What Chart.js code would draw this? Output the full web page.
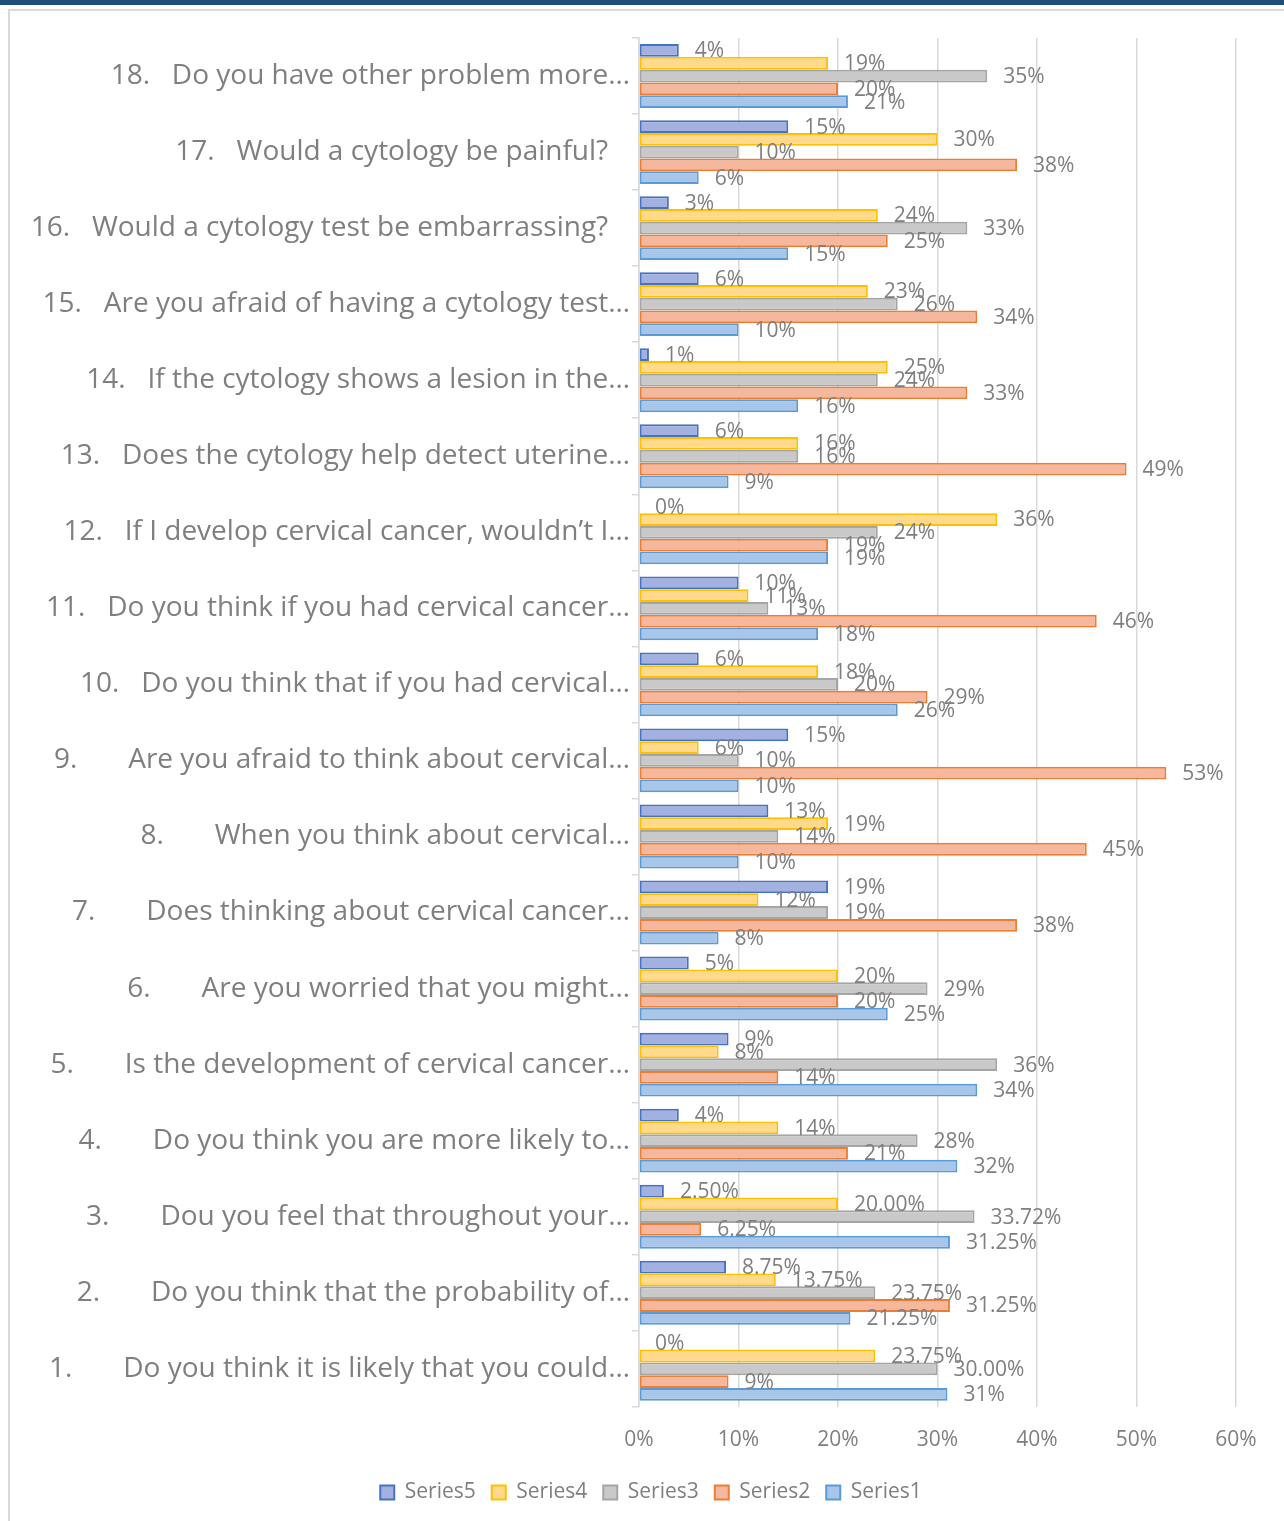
<!DOCTYPE html>
<html>
<head>
<meta charset="utf-8">
<script src="https://cdn.jsdelivr.net/npm/chart.js@4.4.1/dist/chart.umd.min.js"></script>
<style>
  html, body { margin: 0; padding: 0; background: #fff; }
  #topbar { position: absolute; left: 0; top: 0; width: 1284px; height: 5px; background: #1f4e79; }
  #frame { position: absolute; left: 8px; top: 9px; width: 1300px; height: 1540px; border: 2px solid #d9d9d9; }
  #wrap { position: absolute; left: 0; top: 0; width: 1284px; height: 1521px; }
</style>
</head>
<body>
<div id="topbar"></div>
<div id="frame"></div>
<div id="wrap"><canvas id="bar-chart"></canvas></div>
<script>
// questions, top to bottom as drawn (18 down to 1)
const questions = [
    "18.   Do you have other problem more\u2026",
    "17.   Would a cytology be painful?   ",
    "16.   Would a cytology test be embarrassing?   ",
    "15.   Are you afraid of having a cytology test\u2026",
    "14.   If the cytology shows a lesion in the\u2026",
    "13.   Does the cytology help detect uterine\u2026",
    "12.   If I develop cervical cancer, wouldn\u2019t I\u2026",
    "11.   Do you think if you had cervical cancer\u2026",
    "10.   Do you think that if you had cervical\u2026",
    "9.       Are you afraid to think about cervical\u2026",
    "8.       When you think about cervical\u2026",
    "7.       Does thinking about cervical cancer\u2026",
    "6.       Are you worried that you might\u2026",
    "5.       Is the development of cervical cancer\u2026",
    "4.       Do you think you are more likely to\u2026",
    "3.       Dou you feel that throughout your\u2026",
    "2.       Do you think that the probability of\u2026",
    "1.       Do you think it is likely that you could\u2026"
];

// values in %, same order as questions
const series5 = [4, 15, 3, 6, 1, 6, 0, 10, 6, 15, 13, 19, 5, 9, 4, 2.5, 8.75, 0];
const series4 = [19, 30, 24, 23, 25, 16, 36, 11, 18, 6, 19, 12, 20, 8, 14, 20, 13.75, 23.75];
const series3 = [35, 10, 33, 26, 24, 16, 24, 13, 20, 10, 14, 19, 29, 36, 28, 33.72, 23.75, 30];
const series2 = [20, 38, 25, 34, 33, 49, 19, 46, 29, 53, 45, 38, 20, 14, 21, 6.25, 31.25, 9];
const series1 = [21, 6, 15, 10, 16, 9, 19, 18, 26, 10, 10, 8, 25, 34, 32, 31.25, 21.25, 31];

// decimals shown in the value labels
const dec5 = [0, 0, 0, 0, 0, 0, 0, 0, 0, 0, 0, 0, 0, 0, 0, 2, 2, 0];
const dec4 = [0, 0, 0, 0, 0, 0, 0, 0, 0, 0, 0, 0, 0, 0, 0, 2, 2, 2];
const dec3 = [0, 0, 0, 0, 0, 0, 0, 0, 0, 0, 0, 0, 0, 0, 0, 2, 2, 2];
const dec2 = [0, 0, 0, 0, 0, 0, 0, 0, 0, 0, 0, 0, 0, 0, 0, 2, 2, 0];
const dec1 = [0, 0, 0, 0, 0, 0, 0, 0, 0, 0, 0, 0, 0, 0, 0, 2, 2, 0];

const xTicks = [0, 10, 20, 30, 40, 50, 60];

const FONT = "'Open Sans'";
const GREY = "#7f7f7f";

// labels at the end of each bar
const valueLabels = {
    id: "valueLabels",
    afterDatasetsDraw(chart) {
        const ctx = chart.ctx;
        ctx.save();
        ctx.font = "21px " + FONT;
        ctx.fillStyle = GREY;
        ctx.textBaseline = "middle";
        ctx.textAlign = "left";
        chart.data.datasets.forEach(function (ds, i) {
            chart.getDatasetMeta(i).data.forEach(function (bar, j) {
                ctx.fillText(ds.data[j].toFixed(ds.decimals[j]) + "%", bar.x + 16, bar.y + 1);
            });
        });
        ctx.restore();
    }
};

// legend sits a bit right of centre in the original
const legendShift = {
    id: "legendShift",
    beforeDraw(chart) {
        chart.legend.left = 66;
    }
};

var ctx = document.getElementById("bar-chart").getContext("2d");
var myChart = new Chart(ctx, {
    type: "bar",
    data: {
        labels: questions,
        datasets: [
            { label: "Series5", data: series5, decimals: dec5, backgroundColor: "#a2b1e0", borderColor: "#4472c4" },
            { label: "Series4", data: series4, decimals: dec4, backgroundColor: "#ffd98e", borderColor: "#ffc000" },
            { label: "Series3", data: series3, decimals: dec3, backgroundColor: "#c9c9c9", borderColor: "#a5a5a5" },
            { label: "Series2", data: series2, decimals: dec2, backgroundColor: "#f5b79d", borderColor: "#ed7d31" },
            { label: "Series1", data: series1, decimals: dec1, backgroundColor: "#a7c6ea", borderColor: "#5b9bd5" }
        ]
    },
    options: {
        indexAxis: "y",
        responsive: true,
        maintainAspectRatio: false,
        animation: false,
        datasets: {
            bar: {
                borderWidth: 2,
                borderSkipped: false,
                categoryPercentage: 0.84,
                barPercentage: 1.0
            }
        },
        layout: {
            padding: { top: 38, right: 48, left: 0, bottom: 8 }
        },
        plugins: {
            legend: {
                position: "bottom",
                labels: {
                    boxWidth: 14,
                    boxHeight: 14,
                    padding: 16,
                    color: GREY,
                    font: { family: FONT, size: 21 }
                }
            },
            tooltip: { enabled: false }
        },
        scales: {
            x: {
                min: 0,
                max: 60,
                afterBuildTicks: function (scale) {
                    scale.ticks = xTicks.map(function (v) { return { value: v }; });
                },
                afterFit: function (scale) { scale.height -= 8; },
                grid: { color: "#d9d9d9", lineWidth: 1.5, drawTicks: false },
                border: { display: false },
                ticks: {
                    padding: 21,
                    color: GREY,
                    font: { family: FONT, size: 21 },
                    callback: function (v) { return v + "%"; }
                }
            },
            y: {
                afterFit: function (scale) { scale.width = 639; },
                grid: { offset: true, drawOnChartArea: false, color: "#d9d9d9", tickLength: 7, lineWidth: 1.5 },
                border: { display: true, color: "#d9d9d9", width: 1.5 },
                ticks: {
                    padding: 2,
                    color: GREY,
                    font: { family: FONT, size: 28 }
                }
            }
        }
    },
    plugins: [valueLabels, legendShift]
});
</script>
</body>
</html>
